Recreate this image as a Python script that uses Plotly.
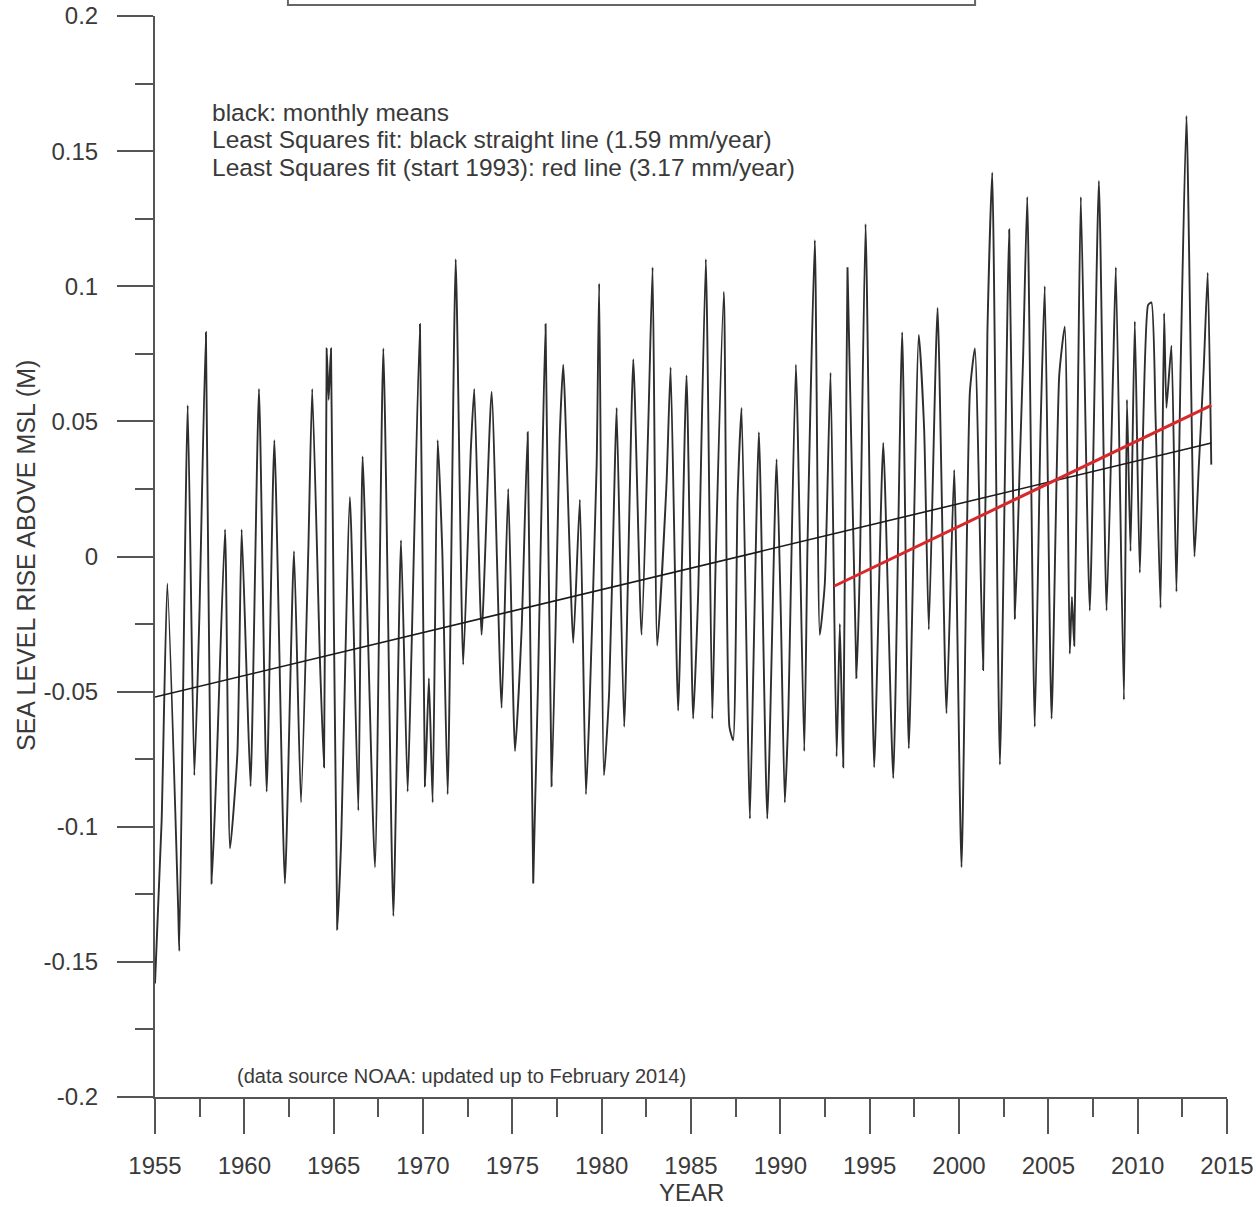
import plotly.graph_objects as go

# Monthly-means series (extremes and turning points)
years = [
    1955.00, 1955.37, 1955.69, 1956.30, 1956.36, 1956.83, 1957.20, 1957.48, 1957.85, 1958.17,
    1958.45, 1958.92, 1959.20, 1959.61, 1959.85, 1960.13, 1960.35, 1960.82, 1961.25, 1961.68,
    1962.27, 1962.78, 1963.17, 1963.58, 1963.80, 1964.23, 1964.46, 1964.61, 1964.72, 1964.85,
    1965.20, 1965.41, 1965.91, 1966.38, 1966.62, 1967.31, 1967.78, 1968.34, 1968.77, 1969.14,
    1969.36, 1969.83, 1970.11, 1970.33, 1970.54, 1970.82, 1971.08, 1971.38, 1971.83, 1972.25,
    1972.68, 1972.87, 1973.28, 1973.84, 1974.40, 1974.77, 1975.15, 1975.52, 1975.86, 1976.17,
    1976.64, 1976.86, 1977.20, 1977.66, 1977.85, 1978.41, 1978.78, 1979.12, 1979.30, 1979.72,
    1979.86, 1980.13, 1980.42, 1980.74, 1980.84, 1981.26, 1981.77, 1982.23, 1982.61, 1982.85,
    1983.11, 1983.63, 1983.86, 1984.28, 1984.75, 1985.12, 1985.40, 1985.83, 1986.19, 1986.38,
    1986.84, 1987.15, 1987.36, 1987.61, 1987.83, 1988.20, 1988.30, 1988.80, 1989.27, 1989.79,
    1990.03, 1990.25, 1990.44, 1990.87, 1991.34, 1991.52, 1991.93, 1992.21, 1992.49, 1992.81,
    1993.15, 1993.33, 1993.52, 1993.76, 1994.26, 1994.45, 1994.77, 1995.25, 1995.76, 1996.32,
    1996.82, 1997.19, 1997.75, 1998.05, 1998.31, 1998.80, 1999.30, 1999.73, 2000.14, 2000.61,
    2000.89, 2001.35, 2001.59, 2001.86, 2002.29, 2002.81, 2003.13, 2003.40, 2003.59, 2003.82,
    2004.24, 2004.56, 2004.80, 2005.18, 2005.61, 2005.92, 2006.20, 2006.32, 2006.45, 2006.67,
    2006.82, 2007.32, 2007.83, 2008.26, 2008.63, 2008.78, 2009.23, 2009.40, 2009.60, 2009.84,
    2010.12, 2010.58, 2010.77, 2011.00, 2011.28, 2011.48, 2011.61, 2011.89, 2012.17, 2012.41,
    2012.73, 2013.18, 2013.42, 2013.70, 2013.92, 2014.12,
]
sea_level = [
    -0.158, -0.098, -0.010, -0.131, -0.146, 0.056, -0.081, -0.023, 0.083, -0.121,
    -0.077, 0.010, -0.108, -0.073, 0.010, -0.044, -0.085, 0.062, -0.087, 0.043,
    -0.121, 0.002, -0.091, 0.002, 0.062, -0.038, -0.078, 0.077, 0.058, 0.077,
    -0.138, -0.107, 0.022, -0.094, 0.037, -0.115, 0.077, -0.133, 0.006, -0.087,
    -0.034, 0.086, -0.085, -0.045, -0.091, 0.043, 0.002, -0.088, 0.110, -0.040,
    0.040, 0.062, -0.029, 0.061, -0.056, 0.025, -0.072, -0.027, 0.046, -0.121,
    0.021, 0.086, -0.085, 0.046, 0.071, -0.032, 0.021, -0.088, -0.060, 0.034,
    0.101, -0.081, -0.050, 0.034, 0.055, -0.063, 0.073, -0.029, 0.049, 0.107,
    -0.033, 0.027, 0.070, -0.057, 0.067, -0.060, -0.014, 0.110, -0.060, -0.002,
    0.098, -0.063, -0.068, 0.022, 0.055, -0.070, -0.097, 0.046, -0.097, 0.036,
    -0.022, -0.091, -0.060, 0.071, -0.072, 0.004, 0.117, -0.029, -0.010, 0.068,
    -0.074, -0.025, -0.078, 0.107, -0.045, -0.004, 0.123, -0.078, 0.042, -0.082,
    0.083, -0.071, 0.082, 0.047, -0.027, 0.092, -0.058, 0.032, -0.115, 0.061,
    0.077, -0.042, 0.083, 0.142, -0.077, 0.121, -0.023, 0.034, 0.074, 0.133,
    -0.063, 0.046, 0.100, -0.060, 0.067, 0.085, -0.036, -0.015, -0.033, 0.067,
    0.133, -0.020, 0.139, -0.020, 0.070, 0.107, -0.053, 0.058, 0.002, 0.087,
    -0.006, 0.093, 0.094, 0.052, -0.019, 0.090, 0.055, 0.078, -0.013, 0.072,
    0.163, 0.000, 0.033, 0.070, 0.105, 0.034,
]

# Least squares fits (end points)
fit_all_x = [1955.0, 2014.12]
fit_all_y = [-0.052, 0.042]
fit_1993_x = [1993.0, 2014.12]
fit_1993_y = [-0.011, 0.0559]

y_tickvals = [-0.2, -0.15, -0.1, -0.05, 0, 0.05, 0.1, 0.15, 0.2]
y_ticktext = ["-0.2", "-0.15", "-0.1", "-0.05", "0", "0.05", "0.1", "0.15", "0.2"]

FONT = "Liberation Sans, Arial, sans-serif"
TXT = "#3a3a3a"
AX = "#555555"

fig = go.Figure()
fig.add_trace(go.Scatter(x=years, y=sea_level, mode="lines",
                         line=dict(color="#2e2e2e", width=1.9, shape="spline", smoothing=0.5),
                         showlegend=False))
fig.add_trace(go.Scatter(x=fit_all_x, y=fit_all_y, mode="lines",
                         line=dict(color="#1a1a1a", width=1.6), showlegend=False))
fig.add_trace(go.Scatter(x=fit_1993_x, y=fit_1993_y, mode="lines",
                         line=dict(color="#d8282b", width=3), showlegend=False))

fig.update_layout(
    width=1256, height=1207,
    margin=dict(l=155, r=29, t=16, b=110),
    paper_bgcolor="white", plot_bgcolor="white",
    font=dict(family=FONT, color=TXT),
    xaxis=dict(range=[1955, 2015], tick0=1955, dtick=5, showgrid=False, zeroline=False,
               automargin=False,
               showline=True, linecolor=AX, linewidth=2,
               ticks="outside", ticklen=35, tickwidth=2, tickcolor=AX,
               tickfont=dict(size=24, color=TXT, family=FONT), ticklabelstandoff=11,
               minor=dict(tick0=1955, dtick=2.5, ticks="outside", ticklen=18,
                          tickwidth=2, tickcolor=AX, showgrid=False)),
    yaxis=dict(range=[-0.2, 0.2], tickmode="array", tickvals=y_tickvals, ticktext=y_ticktext,
               showgrid=False, zeroline=False, automargin=False,
               showline=True, linecolor=AX, linewidth=2,
               ticks="outside", ticklen=36, tickwidth=2, tickcolor=AX,
               tickfont=dict(size=24, color=TXT, family=FONT), ticklabelstandoff=14,
               minor=dict(tickmode="linear", tick0=-0.2, dtick=0.025, ticks="outside",
                          ticklen=18, tickwidth=2, tickcolor=AX, showgrid=False)),
)

annos = [
    dict(text="black: monthly means", x=0.0513, y=0.9103, size=24.5),
    dict(text="Least Squares fit: black straight line (1.59 mm/year)", x=0.0513, y=0.8853, size=24.5),
    dict(text="Least Squares fit (start 1993): red line (3.17 mm/year)", x=0.0513, y=0.8594, size=24.5),
    dict(text="(data source NOAA: updated up to February 2014)", x=0.0746, y=0.0194, size=20),
]
for a in annos:
    fig.add_annotation(text=a["text"], xref="paper", yref="paper", x=a["x"], y=a["y"],
                       xanchor="left", yanchor="middle", showarrow=False,
                       font=dict(size=a["size"], color=TXT, family=FONT))

fig.add_annotation(text="SEA LEVEL RISE ABOVE MSL (M)", xref="paper", yref="paper",
                   x=-0.1203, y=0.5005, xanchor="center", yanchor="middle", textangle=-90,
                   showarrow=False, font=dict(size=25, color=TXT, family=FONT))
fig.add_annotation(text="YEAR", xref="paper", yref="paper", x=0.5, y=-0.0888,
                   xanchor="center", yanchor="middle", showarrow=False,
                   font=dict(size=24, color=TXT, family=FONT))

# partially visible title box at the top
fig.add_shape(type="rect", xref="paper", yref="paper", x0=0.124, x1=0.765, y0=1.0102, y1=1.2,
              line=dict(color="#666666", width=2), fillcolor="rgba(0,0,0,0)")

fig.write_html("out.html", config={"displayModeBar": False},
               post_script="document.body.style.margin='0';")
